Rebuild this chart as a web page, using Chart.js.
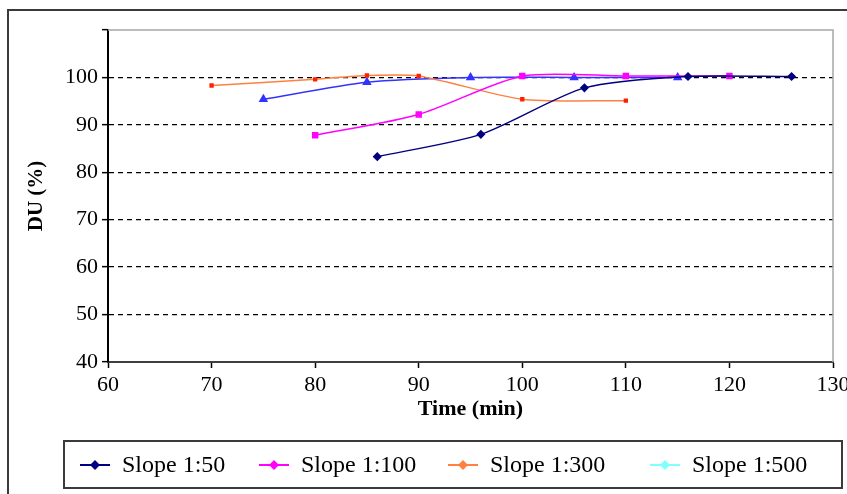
<!DOCTYPE html>
<html>
<head>
<meta charset="utf-8">
<script src="https://cdn.jsdelivr.net/npm/chart.js@4"></script>
<style>
  body { margin: 0; background: #fff; }
  canvas { display: block; }
</style>
</head>
<body>
<canvas id="chart" width="847" height="494"></canvas>
<script>
// values
const seriesNames = ['Slope 1:50', 'Slope 1:100', 'Slope 1:300', 'Slope 1:500'];

const time50 = [86, 96, 106, 116, 126];
const du50 = [83.3, 88.0, 97.8, 100.2, 100.2];

const time100 = [80, 90, 100, 110, 120];
const du100 = [87.8, 92.2, 100.3, 100.3, 100.3];

const time300 = [70, 80, 85, 90, 100, 110];
const du300 = [98.3, 99.6, 100.4, 100.3, 95.4, 95.1];

const time500 = [75, 85, 95, 105, 115];
const du500 = [95.4, 99.0, 100.0, 100.0, 100.0];

const xTicks = [60, 70, 80, 90, 100, 110, 120, 130];
const yTicks = [40, 50, 60, 70, 80, 90, 100, 110];

const toPoints = (xs, ys) => xs.map((x, i) => ({ x: x, y: ys[i] }));

const serif = '"Liberation Serif", "Times New Roman", serif';

// frame around the whole picture and the grey box round the plot
const frames = {
  id: 'frames',
  beforeDraw(chart) {
    const ctx = chart.ctx;
    ctx.save();
    ctx.strokeStyle = '#3a3a3a';
    ctx.lineWidth = 2;
    ctx.strokeRect(8, 10, 900, 600);
    ctx.restore();
  },
  afterDatasetsDraw(chart) {
    const { ctx, chartArea: a } = chart;
    ctx.save();
    ctx.strokeStyle = '#a6a6a6';
    ctx.lineWidth = 1.5;
    ctx.beginPath();
    ctx.moveTo(a.left, a.top);
    ctx.lineTo(a.right, a.top);
    ctx.lineTo(a.right, a.bottom);
    ctx.stroke();
    ctx.restore();
  }
};

// excel style legend: boxed, line with a diamond
const legendColors = ['#000080', '#ff00ff', '#ff8040', '#80ffff'];
const legendSlots = [80, 259, 448, 650];
const legendBox = {
  id: 'legendBox',
  afterDraw(chart) {
    const ctx = chart.ctx;
    ctx.save();
    ctx.strokeStyle = '#3a3a3a';
    ctx.lineWidth = 2;
    ctx.strokeRect(64, 441, 778, 47);
    ctx.font = '24px ' + serif;
    ctx.textBaseline = 'middle';
    const y = 465;
    seriesNames.forEach((name, i) => {
      const x = legendSlots[i];
      ctx.strokeStyle = legendColors[i];
      ctx.fillStyle = legendColors[i];
      ctx.lineWidth = 2;
      ctx.beginPath();
      ctx.moveTo(x, y);
      ctx.lineTo(x + 30, y);
      ctx.stroke();
      ctx.beginPath();
      ctx.moveTo(x + 15, y - 5);
      ctx.lineTo(x + 20, y);
      ctx.lineTo(x + 15, y + 5);
      ctx.lineTo(x + 10, y);
      ctx.closePath();
      ctx.fill();
      ctx.fillStyle = '#000';
      ctx.fillText(name, x + 42, y + 1);
    });
    ctx.restore();
  }
};

new Chart(document.getElementById('chart'), {
  type: 'line',
  data: {
    datasets: [
      {
        label: seriesNames[0],
        data: toPoints(time50, du50),
        borderColor: '#000080',
        backgroundColor: '#000080',
        pointStyle: 'rectRot',
        pointRadius: 3.5,
        borderWidth: 1.5
      },
      {
        label: seriesNames[1],
        data: toPoints(time100, du100),
        borderColor: '#ff00ff',
        backgroundColor: '#ff00ff',
        pointStyle: 'rect',
        pointRadius: 3.5,
        borderWidth: 1.5
      },
      {
        label: seriesNames[2],
        data: toPoints(time300, du300),
        borderColor: '#ff8040',
        backgroundColor: '#ff2000',
        pointBorderColor: '#ff2000',
        pointStyle: 'rect',
        pointRadius: 2,
        borderWidth: 1.5
      },
      {
        label: seriesNames[3],
        data: toPoints(time500, du500),
        borderColor: '#3333ff',
        backgroundColor: '#3333ff',
        pointStyle: 'triangle',
        pointRadius: 4,
        borderWidth: 1.5
      }
    ]
  },
  options: {
    responsive: false,
    animation: false,
    tension: 0.25,
    layout: { padding: { top: 30, right: 14, left: 0, bottom: 0 } },
    plugins: {
      legend: { display: false },
      tooltip: { enabled: false }
    },
    scales: {
      x: {
        type: 'linear',
        min: 60,
        max: 130,
        afterBuildTicks: s => { s.ticks = xTicks.map(v => ({ value: v })); },
        afterFit: s => { s.height = 132; s.paddingLeft = 0; s.paddingRight = 0; },
        grid: { drawOnChartArea: false, tickLength: 6, tickColor: '#000', tickWidth: 1.5 },
        border: { color: '#404040', width: 2 },
        ticks: { color: '#000', font: { family: serif, size: 22 }, padding: 4, maxRotation: 0 },
        title: {
          display: true,
          text: 'Time (min)',
          color: '#000',
          font: { family: serif, size: 22, weight: 'bold' },
          padding: { top: 0, bottom: 71 }
        }
      },
      y: {
        min: 40,
        max: 110,
        afterBuildTicks: s => { s.ticks = yTicks.map(v => ({ value: v })); },
        afterFit: s => { s.width = 108; s.paddingTop = 0; s.paddingBottom = 0; },
        grid: {
          color: c => (c.tick && (c.tick.value === 40 || c.tick.value === 110)) ? 'rgba(0,0,0,0)' : '#000',
          lineWidth: 1.3,
          tickLength: 6,
          tickColor: '#000',
          tickWidth: 1.5,
          tickBorderDash: []
        },
        border: { color: '#000', width: 2, dash: [5, 4] },
        ticks: {
          color: '#000',
          font: { family: serif, size: 22 },
          padding: 4,
          callback: v => (v === 110 ? '' : v)
        },
        title: {
          display: true,
          text: 'DU (%)',
          color: '#000',
          font: { family: serif, size: 21, weight: 'bold' },
          padding: { top: 24, bottom: 0 }
        }
      }
    }
  },
  plugins: [frames, legendBox]
});
</script>
</body>
</html>
